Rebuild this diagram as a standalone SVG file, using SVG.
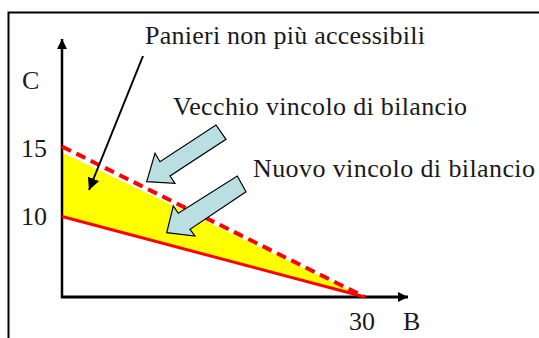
<svg xmlns="http://www.w3.org/2000/svg" width="539" height="338" viewBox="0 0 539 338">
  <style>
    .axis { stroke: #000; fill: none; }
    .block { fill: #b9dfe3; stroke: #000; stroke-width: 1.2; stroke-linejoin: miter; }
  </style>
  <defs>
    <marker id="ah" viewBox="0 0 10 10" refX="10" refY="5" markerWidth="10" markerHeight="10" markerUnits="userSpaceOnUse" orient="auto">
      <path d="M0,0 L10,5 L0,10 z" fill="#000"/>
    </marker>
    <marker id="ahp" viewBox="0 0 10 10" refX="10" refY="5" markerWidth="12" markerHeight="12" markerUnits="userSpaceOnUse" orient="auto">
      <path d="M0,0 L10,5 L0,10 z" fill="#000"/>
    </marker>
  </defs>
  <rect width="539" height="338" fill="#fff"/>
  <path d="M8.5,338 V12.5 H539" fill="none" stroke="#000" stroke-width="2"/>

  <g id="shaded-area">
    <polygon points="63,153 362,296 63,216" fill="#ffff00"/>
  </g>

  <g id="axes">
    <line class="axis" x1="62" y1="298" x2="62" y2="39" stroke-width="2.5" marker-end="url(#ah)"/>
    <line class="axis" x1="61" y1="297" x2="408" y2="297" stroke-width="3" marker-end="url(#ah)"/>
  </g>

  <g id="old-constraint">
    <line x1="62" y1="146.5" x2="365" y2="297" stroke="#ff0000" stroke-width="4" stroke-dasharray="10 6"/>
  </g>
  <g id="new-constraint">
    <line x1="62" y1="216.5" x2="365" y2="297" stroke="#ff0000" stroke-width="3"/>
  </g>

  <g font-family="Liberation Serif" font-size="26" fill="#1a1a1a">
    <g id="label-C"><text x="22" y="89">C</text></g>
    <g id="label-15"><text x="21" y="157">15</text></g>
    <g id="label-10"><text x="21" y="225">10</text></g>
    <g id="label-30"><text x="349" y="330">30</text></g>
    <g id="label-B"><text x="403" y="330">B</text></g>
    <g id="label-panieri"><text x="145" y="44" textLength="280" lengthAdjust="spacing">Panieri non più accessibili</text></g>
    <g id="label-vecchio"><text x="173" y="115" textLength="294" lengthAdjust="spacing">Vecchio vincolo di bilancio</text></g>
    <g id="label-nuovo"><text x="253" y="177" textLength="282" lengthAdjust="spacing">Nuovo vincolo di bilancio</text></g>
  </g>

  <g id="arrow-vecchio">
    <polygon class="block" points="146.7,181.7 155,153.3 160,161.7 216,125 226,139.3 170,176 175,183.3"/>
  </g>
  <g id="arrow-nuovo">
    <polygon class="block" points="166.7,232.7 173.3,206 178.3,213.3 237.3,176 246,191.7 190,229.3 195,236"/>
  </g>

  <g id="connectors">
    <line x1="143" y1="56" x2="89" y2="190" stroke="#000" stroke-width="2" marker-end="url(#ahp)"/>
  </g>
</svg>
